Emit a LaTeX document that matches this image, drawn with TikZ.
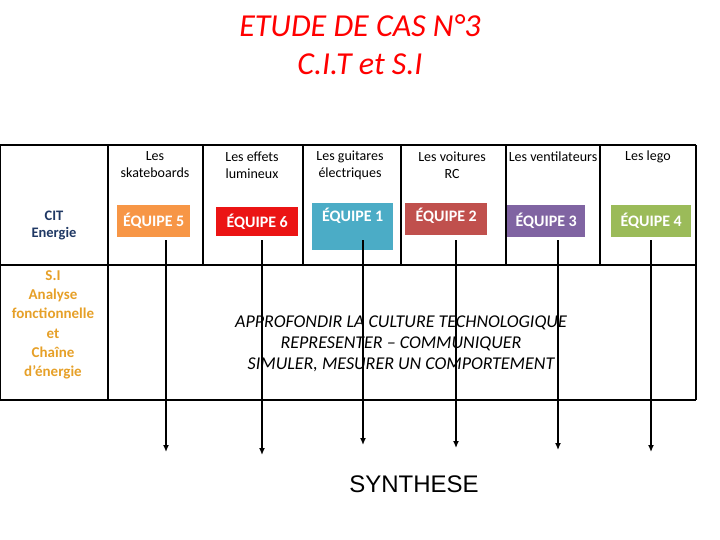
\documentclass[tikz,border=0pt]{standalone}
\usepackage{fontspec}
\setmainfont{Carlito}
\newfontfamily\arial{Liberation Sans}
\usetikzlibrary{arrows.meta}
\begin{document}
\begin{tikzpicture}[x=1pt,y=-1pt,
 grid/.style={line width=1.5pt},
 team/.style={anchor=north west,inner sep=0,minimum height=#1,text=white,font=\fontsize{16}{18}\selectfont\bfseries,align=center},
 team/.default=32,
 lbl/.style={font=\fontsize{14}{17}\selectfont,align=center},
 arr/.style={-{Latex[length=7pt,width=6pt]},line width=1.3pt}]
\useasboundingbox (0,0) rectangle (720,540);
\node[text=red,font=\fontsize{32}{38}\selectfont\itshape,align=center] (title) at (360,45) {ETUDE DE CAS N°3\\C.I.T et S.I};
% grid
\draw[grid] (0,145) -- (696,145);
\draw[grid] (0,265) -- (696,265);
\draw[grid] (0,400) -- (696,400);
\draw[grid] (0,145) -- (0,400);
\draw[grid] (696,145) -- (696,400);
\draw[grid] (108,145) -- (108,400);
\foreach \x in {203,303,401,506,600} \draw[grid] (\x,145) -- (\x,265);
% headers
\node[lbl] (h1) at (155,165) {Les\\skateboards};
\node[lbl] (h2) at (252,165) {Les effets\\lumineux};
\node[lbl] (h3) at (350,165) {Les guitares\\électriques};
\node[lbl] (h4) at (452,165) {Les voitures\\RC};
\node[lbl] (h5) at (553,157) {Les ventilateurs};
\node[lbl] (h6) at (648,157) {Les lego};
\node[lbl,text={rgb,255:red,31;green,56;blue,100},font=\fontsize{14.5}{17}\selectfont\bfseries] (cit) at (54,225) {CIT\\Energie};
\node[lbl,text={rgb,255:red,230;green,160;blue,40},font=\fontsize{15}{19.3}\selectfont\bfseries] (si) at (53,325) {S.I\\Analyse\\fonctionnelle\\et\\Chaîne\\d’énergie};
% team boxes
\node[team,fill={rgb,255:red,247;green,150;blue,70},minimum width=73] (e5) at (117,205) {ÉQUIPE 5};
\node[team,fill={rgb,255:red,235;green,20;blue,20},minimum width=82,minimum height=29] (e6) at (216,207) {ÉQUIPE 6};
\node[team,fill={rgb,255:red,75;green,172;blue,198},minimum width=81,minimum height=47,text depth=24pt] (e1) at (312,203) {ÉQUIPE 1};
\node[team,fill={rgb,255:red,192;green,80;blue,77},minimum width=82,text depth=8pt] (e2) at (405,203) {ÉQUIPE 2};
\node[team,fill={rgb,255:red,128;green,100;blue,162},minimum width=78] (e3) at (507,205) {ÉQUIPE 3};
\node[team,fill={rgb,255:red,155;green,187;blue,89},minimum width=80] (e4) at (611,205) {ÉQUIPE 4};
% arrows
\foreach \x/\y/\n in {166/452/a,262/455/b,363/445/c,456/448/d,558/450/e,651/452/f}{
 \coordinate (s\n) at (\x,240); \coordinate (t\n) at (\x,\y);
 \draw[arr] (s\n) -- (t\n);}
\node[font=\fontsize{18}{21}\selectfont\itshape,align=center] (obj) at (401,344) {APPROFONDIR LA CULTURE TECHNOLOGIQUE\\REPRESENTER – COMMUNIQUER\\SIMULER, MESURER UN COMPORTEMENT};
\node[font=\fontsize{24}{28}\selectfont\arial] (syn) at (414,484) {SYNTHESE};
\end{tikzpicture}
\end{document}
